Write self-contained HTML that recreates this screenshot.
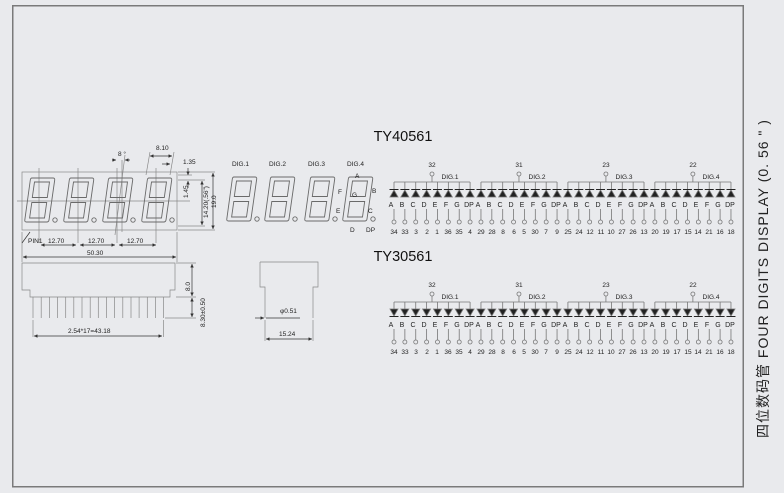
<!DOCTYPE html>
<html><head><meta charset="utf-8"><style>
html,body{margin:0;padding:0;background:#e9eaed;}
svg{display:block;font-family:"Liberation Sans",Arial,sans-serif;}
</style></head><body>
<svg width="784" height="493" viewBox="0 0 784 493" xmlns="http://www.w3.org/2000/svg">
<defs>
  <g id="dg" fill="none" stroke="#6a6a6a" stroke-width="0.9">
    <path d="M7,0 H28 Q30,0 29.7,2 L24,42 Q23.7,44 21.7,44 H1.5 Q-0.5,44 -0.2,42 L5.3,2 Q5.6,0 7,0 Z"/>
    <path d="M9.5,4 H24.5 L22.3,19.5 H7.3 Z"/>
    <path d="M6.8,24.5 H21.7 L19.5,40 H4.6 Z"/>
    <circle cx="30" cy="42" r="2.2"/>
  </g>
  <g id="du"><polygon points="-4,4 4,4 0,-3" fill="#222"/><line x1="-4.5" y1="-3.5" x2="4.5" y2="-3.5" stroke="#222" stroke-width="1"/></g>
  <g id="dd"><polygon points="-4,-4 4,-4 0,3" fill="#222"/><line x1="-4.5" y1="3.5" x2="4.5" y2="3.5" stroke="#222" stroke-width="1"/></g>
  <g id="grpU" stroke="#777" stroke-width="0.8" fill="none">
    <line x1="0" y1="0" x2="76.1" y2="0"/>
    <line x1="38" y1="-6" x2="38" y2="0"/><circle cx="38" cy="-8" r="2"/>
    <path d="M0,0V8 M10.87,0V8 M21.74,0V8 M32.61,0V8 M43.48,0V8 M54.35,0V8 M65.22,0V8 M76.09,0V8"/>
    <path d="M0,27V38 M10.87,27V38 M21.74,27V38 M32.61,27V38 M43.48,27V38 M54.35,27V38 M65.22,27V38 M76.09,27V38"/>
    <circle cx="0" cy="40" r="2"/><circle cx="10.87" cy="40" r="2"/><circle cx="21.74" cy="40" r="2"/><circle cx="32.61" cy="40" r="2"/><circle cx="43.48" cy="40" r="2"/><circle cx="54.35" cy="40" r="2"/><circle cx="65.22" cy="40" r="2"/><circle cx="76.09" cy="40" r="2"/>
    <use href="#du" x="0" y="11"/><use href="#du" x="10.87" y="11"/><use href="#du" x="21.74" y="11"/><use href="#du" x="32.61" y="11"/><use href="#du" x="43.48" y="11"/><use href="#du" x="54.35" y="11"/><use href="#du" x="65.22" y="11"/><use href="#du" x="76.09" y="11"/>
  </g>
  <g id="grpD" stroke="#777" stroke-width="0.8" fill="none">
    <line x1="0" y1="0" x2="76.1" y2="0"/>
    <line x1="38" y1="-6" x2="38" y2="0"/><circle cx="38" cy="-8" r="2"/>
    <path d="M0,0V8 M10.87,0V8 M21.74,0V8 M32.61,0V8 M43.48,0V8 M54.35,0V8 M65.22,0V8 M76.09,0V8"/>
    <path d="M0,27V38 M10.87,27V38 M21.74,27V38 M32.61,27V38 M43.48,27V38 M54.35,27V38 M65.22,27V38 M76.09,27V38"/>
    <circle cx="0" cy="40" r="2"/><circle cx="10.87" cy="40" r="2"/><circle cx="21.74" cy="40" r="2"/><circle cx="32.61" cy="40" r="2"/><circle cx="43.48" cy="40" r="2"/><circle cx="54.35" cy="40" r="2"/><circle cx="65.22" cy="40" r="2"/><circle cx="76.09" cy="40" r="2"/>
    <use href="#dd" x="0" y="11"/><use href="#dd" x="10.87" y="11"/><use href="#dd" x="21.74" y="11"/><use href="#dd" x="32.61" y="11"/><use href="#dd" x="43.48" y="11"/><use href="#dd" x="54.35" y="11"/><use href="#dd" x="65.22" y="11"/><use href="#dd" x="76.09" y="11"/>
  </g>
  <marker id="ar" viewBox="0 0 6 6" refX="6" refY="3" markerWidth="5" markerHeight="5" orient="auto-start-reverse"><path d="M0,0L6,3L0,6Z" fill="#333"/></marker>
</defs>

<rect x="12.75" y="5.75" width="730.5" height="481" fill="#e9eaed" stroke="#7a7a7a" stroke-width="1.5"/>

<!-- front view -->
<g stroke="#888" stroke-width="0.7" fill="none">
  <rect x="22" y="172" width="155" height="58"/>
  <line x1="17" y1="201" x2="190" y2="201"/>
  <line x1="39" y1="168" x2="39" y2="243"/><line x1="78" y1="168" x2="78" y2="243"/><line x1="117" y1="168" x2="117" y2="243"/><line x1="156" y1="168" x2="156" y2="243"/>
  <line x1="115" y1="235" x2="125" y2="155"/><line x1="122" y1="160" x2="122" y2="232"/>
  <line x1="150" y1="152" x2="146" y2="175"/><line x1="174" y1="152" x2="170" y2="175"/>
  <line x1="22" y1="232" x2="22" y2="262"/><line x1="177" y1="232" x2="177" y2="262"/>
  <line x1="178" y1="172" x2="215" y2="172"/><line x1="178" y1="230" x2="215" y2="230"/>
  <line x1="178" y1="175" x2="192" y2="175"/><line x1="178" y1="180" x2="205" y2="180"/><line x1="178" y1="226" x2="205" y2="226"/>
</g>
<use href="#dg" x="25" y="178"/><use href="#dg" x="64" y="178"/><use href="#dg" x="103" y="178"/><use href="#dg" x="142" y="178"/>
<g stroke="#333" stroke-width="0.7" fill="none">
  <line x1="41" y1="245" x2="76" y2="245" marker-start="url(#ar)" marker-end="url(#ar)"/>
  <line x1="80" y1="245" x2="115" y2="245" marker-start="url(#ar)" marker-end="url(#ar)"/>
  <line x1="119" y1="245" x2="156" y2="245" marker-start="url(#ar)" marker-end="url(#ar)"/>
  <line x1="23" y1="257" x2="176" y2="257" marker-start="url(#ar)" marker-end="url(#ar)"/>
  <line x1="213" y1="173" x2="213" y2="229" marker-start="url(#ar)" marker-end="url(#ar)"/>
  <line x1="202" y1="181" x2="202" y2="225" marker-start="url(#ar)" marker-end="url(#ar)"/>
  <line x1="188" y1="168" x2="188" y2="175" marker-end="url(#ar)"/>
  <line x1="188" y1="188" x2="188" y2="181" marker-end="url(#ar)"/>
  <line x1="112" y1="160" x2="116" y2="160" marker-end="url(#ar)"/><line x1="130" y1="160" x2="125" y2="160" marker-end="url(#ar)"/>
  <line x1="150" y1="156" x2="172" y2="156" marker-start="url(#ar)" marker-end="url(#ar)"/>
  <line x1="162" y1="164" x2="170" y2="164" marker-end="url(#ar)"/>
  <line x1="22" y1="243" x2="30" y2="232"/>
</g>
<g font-size="6.5" fill="#222">
  <text x="118" y="156">8 °</text>
  <text x="156" y="150">8.10</text>
  <text x="183" y="164">1.35</text>
  <text x="28" y="243">PIN1</text>
  <text x="48" y="243">12.70</text><text x="88" y="243">12.70</text><text x="127" y="243">12.70</text>
  <text x="87" y="255">50.30</text>
  <text transform="translate(188,198) rotate(-90)">1.45</text>
  <text transform="translate(208,218) rotate(-90)">14.20(.56")</text>
  <text transform="translate(216,208) rotate(-90)">19.0</text>
</g>

<!-- right view digits -->
<use href="#dg" x="227" y="177"/><use href="#dg" x="265" y="177"/><use href="#dg" x="305" y="177"/><use href="#dg" x="343" y="177"/>
<g font-size="6.5" fill="#222">
  <text x="232" y="166">DIG.1</text><text x="269" y="166">DIG.2</text><text x="308" y="166">DIG.3</text><text x="347" y="166">DIG.4</text>
  <text x="355" y="178">A</text><text x="338" y="194">F</text><text x="352" y="197">G</text><text x="372" y="193">B</text>
  <text x="336" y="213">E</text><text x="368" y="213">C</text><text x="350" y="232">D</text><text x="366" y="232">DP</text>
</g>

<!-- side view -->
<g stroke="#888" stroke-width="0.7" fill="none">
  <path d="M22,263 H175 V290 H170 V297 H30 V290 H22 Z"/>
  <path d="M33,297V318 M41.2,297V318 M49.4,297V318 M57.5,297V318 M65.7,297V318 M73.8,297V318 M82,297V318 M90.2,297V318 M98.3,297V318 M106.5,297V318 M114.6,297V318 M122.8,297V318 M131,297V318 M139.1,297V318 M147.3,297V318 M155.4,297V318 M163.6,297V318"/>
  <line x1="176" y1="263" x2="196" y2="263"/><line x1="176" y1="297" x2="196" y2="297"/><line x1="165" y1="318" x2="196" y2="318"/>
  <line x1="33" y1="320" x2="33" y2="337"/><line x1="163.6" y1="320" x2="163.6" y2="337"/>
  <path d="M260,262 H318 V287 H313 V318 M260,262 V287 H265 V318"/>
  <line x1="265" y1="320" x2="265" y2="341"/><line x1="313" y1="320" x2="313" y2="341"/>
</g>
<g stroke="#333" stroke-width="0.7" fill="none">
  <line x1="192" y1="264" x2="192" y2="296" marker-start="url(#ar)" marker-end="url(#ar)"/>
  <line x1="192" y1="298" x2="192" y2="317" marker-start="url(#ar)" marker-end="url(#ar)"/>
  <line x1="34" y1="336" x2="162" y2="336" marker-start="url(#ar)" marker-end="url(#ar)"/>
  <line x1="266" y1="339" x2="312" y2="339" marker-start="url(#ar)" marker-end="url(#ar)"/>
  <line x1="255" y1="318" x2="264" y2="318" marker-end="url(#ar)"/>
  <line x1="266" y1="318" x2="300" y2="318"/>
</g>
<g font-size="6.5" fill="#222">
  <text transform="translate(190,291) rotate(-90)">8.0</text>
  <text transform="translate(205,327) rotate(-90)">8.30±0.50</text>
  <text x="68" y="333">2.54*17=43.18</text>
  <text x="280" y="313">φ0.51</text>
  <text x="279" y="336">15.24</text>
</g>

<!-- titles -->
<text x="403" y="141" font-size="14.5" text-anchor="middle" fill="#111">TY40561</text>
<text x="403" y="261" font-size="14.5" text-anchor="middle" fill="#111">TY30561</text>

<!-- upper circuit -->
<use href="#grpU" x="394" y="182"/><use href="#grpU" x="480.96" y="182"/><use href="#grpU" x="567.92" y="182"/><use href="#grpU" x="654.88" y="182"/>
<!-- lower circuit -->
<use href="#grpD" x="394" y="302"/><use href="#grpD" x="480.96" y="302"/><use href="#grpD" x="567.92" y="302"/><use href="#grpD" x="654.88" y="302"/>

<g font-size="6.5" fill="#222" text-anchor="middle">
  <text x="432" y="167">32</text><text x="519" y="167">31</text><text x="606" y="167">23</text><text x="693" y="167">22</text>
  <text x="450" y="179">DIG.1</text><text x="537" y="179">DIG.2</text><text x="624" y="179">DIG.3</text><text x="711" y="179">DIG.4</text>
  <text x="432" y="287">32</text><text x="519" y="287">31</text><text x="606" y="287">23</text><text x="693" y="287">22</text>
  <text x="450" y="299">DIG.1</text><text x="537" y="299">DIG.2</text><text x="624" y="299">DIG.3</text><text x="711" y="299">DIG.4</text>
</g>
<g font-size="7" fill="#222" text-anchor="middle">
<text y="207"><tspan x="391">A</tspan><tspan x="402">B</tspan><tspan x="413">C</tspan><tspan x="424">D</tspan><tspan x="435">E</tspan><tspan x="446">F</tspan><tspan x="457">G</tspan><tspan x="469">DP</tspan><tspan x="478">A</tspan><tspan x="489">B</tspan><tspan x="500">C</tspan><tspan x="511">D</tspan><tspan x="522">E</tspan><tspan x="533">F</tspan><tspan x="544">G</tspan><tspan x="556">DP</tspan><tspan x="565">A</tspan><tspan x="576">B</tspan><tspan x="587">C</tspan><tspan x="598">D</tspan><tspan x="609">E</tspan><tspan x="620">F</tspan><tspan x="631">G</tspan><tspan x="643">DP</tspan><tspan x="652">A</tspan><tspan x="663">B</tspan><tspan x="674">C</tspan><tspan x="685">D</tspan><tspan x="696">E</tspan><tspan x="707">F</tspan><tspan x="718">G</tspan><tspan x="730">DP</tspan></text>
<text y="327"><tspan x="391">A</tspan><tspan x="402">B</tspan><tspan x="413">C</tspan><tspan x="424">D</tspan><tspan x="435">E</tspan><tspan x="446">F</tspan><tspan x="457">G</tspan><tspan x="469">DP</tspan><tspan x="478">A</tspan><tspan x="489">B</tspan><tspan x="500">C</tspan><tspan x="511">D</tspan><tspan x="522">E</tspan><tspan x="533">F</tspan><tspan x="544">G</tspan><tspan x="556">DP</tspan><tspan x="565">A</tspan><tspan x="576">B</tspan><tspan x="587">C</tspan><tspan x="598">D</tspan><tspan x="609">E</tspan><tspan x="620">F</tspan><tspan x="631">G</tspan><tspan x="643">DP</tspan><tspan x="652">A</tspan><tspan x="663">B</tspan><tspan x="674">C</tspan><tspan x="685">D</tspan><tspan x="696">E</tspan><tspan x="707">F</tspan><tspan x="718">G</tspan><tspan x="730">DP</tspan></text>
</g>
<g font-size="6.5" fill="#222" text-anchor="middle">
<text y="234"><tspan x="394">34</tspan><tspan x="405">33</tspan><tspan x="416">3</tspan><tspan x="427">2</tspan><tspan x="437">1</tspan><tspan x="448">36</tspan><tspan x="459">35</tspan><tspan x="470">4</tspan><tspan x="481">29</tspan><tspan x="492">28</tspan><tspan x="503">8</tspan><tspan x="514">6</tspan><tspan x="524">5</tspan><tspan x="535">30</tspan><tspan x="546">7</tspan><tspan x="557">9</tspan><tspan x="568">25</tspan><tspan x="579">24</tspan><tspan x="590">12</tspan><tspan x="601">11</tspan><tspan x="611">10</tspan><tspan x="622">27</tspan><tspan x="633">26</tspan><tspan x="644">13</tspan><tspan x="655">20</tspan><tspan x="666">19</tspan><tspan x="677">17</tspan><tspan x="688">15</tspan><tspan x="698">14</tspan><tspan x="709">21</tspan><tspan x="720">16</tspan><tspan x="731">18</tspan></text>
<text y="354"><tspan x="394">34</tspan><tspan x="405">33</tspan><tspan x="416">3</tspan><tspan x="427">2</tspan><tspan x="437">1</tspan><tspan x="448">36</tspan><tspan x="459">35</tspan><tspan x="470">4</tspan><tspan x="481">29</tspan><tspan x="492">28</tspan><tspan x="503">8</tspan><tspan x="514">6</tspan><tspan x="524">5</tspan><tspan x="535">30</tspan><tspan x="546">7</tspan><tspan x="557">9</tspan><tspan x="568">25</tspan><tspan x="579">24</tspan><tspan x="590">12</tspan><tspan x="601">11</tspan><tspan x="611">10</tspan><tspan x="622">27</tspan><tspan x="633">26</tspan><tspan x="644">13</tspan><tspan x="655">20</tspan><tspan x="666">19</tspan><tspan x="677">17</tspan><tspan x="688">15</tspan><tspan x="698">14</tspan><tspan x="709">21</tspan><tspan x="720">16</tspan><tspan x="731">18</tspan></text>
</g>

<!-- vertical caption -->
<text transform="translate(768,438) rotate(-90)" font-size="14" fill="#222" letter-spacing="1" font-family="'Liberation Sans','Noto Sans CJK SC',sans-serif">四位数码管 FOUR DIGITS DISPLAY (0. 56 " )</text>
</svg>
</body></html>
